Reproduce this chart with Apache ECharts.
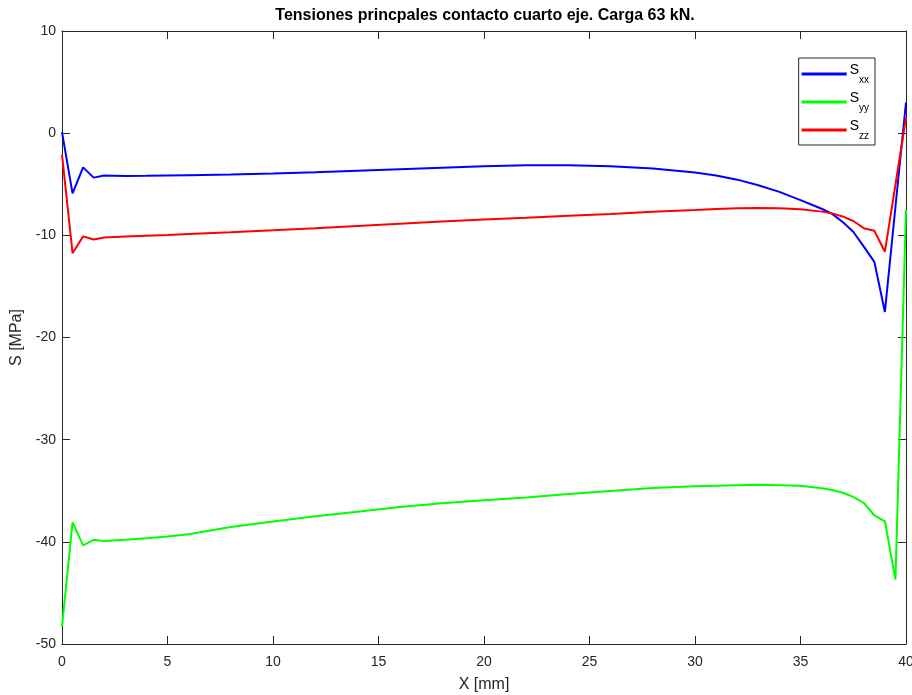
<!DOCTYPE html>
<html>
<head>
<meta charset="utf-8">
<script src="https://cdn.jsdelivr.net/npm/echarts@6/dist/echarts.min.js"></script>
<style>
  html, body { margin: 0; padding: 0; background: #ffffff; }
  #chart { width: 912px; height: 695px; }
</style>
</head>
<body>
<div id="chart"></div>
<script>
// Position along the contact [mm]
const xPos = [0, 0.5, 1, 1.5, 2, 3, 4, 5, 6, 8, 10, 12, 14, 16, 18, 20, 22, 24, 26, 28,
  30, 31, 32, 33, 34, 35, 36, 36.5, 37, 37.5, 38, 38.5, 39, 39.5, 40];

// Principal stresses [MPa]
const sxx = [0.1, -5.9, -3.35, -4.35, -4.15, -4.2, -4.18, -4.15, -4.12, -4.05, -3.95, -3.82, -3.68, -3.53, -3.38, -3.23, -3.13, -3.13, -3.25, -3.45,
  -3.85, -4.15, -4.55, -5.1, -5.75, -6.55, -7.4, -7.9, -8.7, -9.65, -11.1, -12.6, -17.5, -7.2, 3.0];
const syy = [-48.3, -38.1, -40.35, -39.8, -39.93, -39.8, -39.65, -39.48, -39.25, -38.55, -38.0, -37.5, -37.05, -36.6, -36.22, -35.93, -35.65, -35.33, -35.03, -34.74,
  -34.57, -34.5, -34.45, -34.42, -34.45, -34.5, -34.75, -34.93, -35.2, -35.6, -36.2, -37.4, -38.0, -43.7, -7.5];
const szz = [-2.1, -11.75, -10.1, -10.4, -10.22, -10.12, -10.04, -9.96, -9.87, -9.7, -9.51, -9.3, -9.08, -8.86, -8.64, -8.46, -8.28, -8.08, -7.9, -7.68,
  -7.52, -7.42, -7.36, -7.33, -7.36, -7.45, -7.68, -7.85, -8.15, -8.6, -9.3, -9.55, -11.6, -5.05, 1.5];

const seriesNames = ['Sxx', 'Syy', 'Szz'];
const subscripts = { Sxx: 'xx', Syy: 'yy', Szz: 'zz' };
const seriesColors = ['#0000ff', '#00ff00', '#ff0000'];

const xTicks = { min: 0, max: 40, interval: 5 };
const yTicks = { min: -50, max: 10, interval: 10 };

const axisColor = '#262626';
const fontFamily = 'Liberation Sans, Arial, Helvetica, sans-serif';

function pairs(xs, ys) {
  return xs.map((x, i) => [x, ys[i]]);
}

const chart = echarts.init(document.getElementById('chart'), null, { renderer: 'canvas' });

// Top and right axes close the box, with inward ticks and no labels
const mirrorAxis = {
  axisLine: { show: true, onZero: false, lineStyle: { color: axisColor, width: 1 } },
  axisTick: { show: true, inside: true, length: 8, lineStyle: { color: axisColor } },
  axisLabel: { show: false },
  splitLine: { show: false }
};

chart.setOption({
  animation: false,
  backgroundColor: '#ffffff',
  title: {
    text: 'Tensiones princpales contacto cuarto eje. Carga 63 kN.',
    left: 480,
    textAlign: 'center',
    top: 3,
    textStyle: { fontFamily, fontSize: 16, fontWeight: 'bold', color: '#000000' }
  },
  grid: { left: 62, right: 6, top: 31, bottom: 51, containLabel: false, outerBoundsMode: 'none' },
  legend: {
    orient: 'vertical',
    right: 37,
    top: 58,
    padding: [5, 6, 4, 3],
    itemGap: 6,
    itemWidth: 45,
    itemHeight: 3,
    backgroundColor: '#ffffff',
    borderColor: axisColor,
    borderWidth: 1,
    borderRadius: 0,
    data: seriesNames.map((n, i) => ({ name: n, icon: 'rect', itemStyle: { color: seriesColors[i] } })),
    formatter: name => '{s|S}{sub|' + subscripts[name] + '}',
    textStyle: {
      color: '#000000',
      padding: [0, 0, 0, -2],
      rich: {
        s: { fontFamily, fontSize: 14, color: '#000000', verticalAlign: 'top', padding: [0, 0, 0, 0] },
        sub: { fontFamily, fontSize: 10, color: '#000000', padding: [12, 0, 0, 0] }
      }
    }
  },
  xAxis: [{
    type: 'value',
    min: xTicks.min,
    max: xTicks.max,
    interval: xTicks.interval,
    position: 'bottom',
    name: 'X [mm]',
    nameLocation: 'middle',
    nameGap: 33,
    nameTextStyle: { fontFamily, fontSize: 16, color: axisColor },
    axisLine: { show: true, onZero: false, lineStyle: { color: axisColor, width: 1 } },
    axisTick: { show: true, inside: true, length: 8, lineStyle: { color: axisColor } },
    axisLabel: { fontFamily, fontSize: 14, color: axisColor, margin: 11 },
    splitLine: { show: false }
  }, Object.assign({
    type: 'value', min: xTicks.min, max: xTicks.max, interval: xTicks.interval, position: 'top'
  }, mirrorAxis)],
  yAxis: [{
    type: 'value',
    min: yTicks.min,
    max: yTicks.max,
    interval: yTicks.interval,
    position: 'left',
    name: 'S [MPa]',
    nameLocation: 'middle',
    nameGap: 27,
    nameTextStyle: { fontFamily, fontSize: 16, color: axisColor },
    axisLine: { show: true, onZero: false, lineStyle: { color: axisColor, width: 1 } },
    axisTick: { show: true, inside: true, length: 8, lineStyle: { color: axisColor } },
    axisLabel: { fontFamily, fontSize: 14, color: axisColor, margin: 6 },
    splitLine: { show: false }
  }, Object.assign({
    type: 'value', min: yTicks.min, max: yTicks.max, interval: yTicks.interval, position: 'right'
  }, mirrorAxis)],
  series: [sxx, syy, szz].map((vals, i) => ({
    name: seriesNames[i],
    type: 'line',
    data: pairs(xPos, vals),
    xAxisIndex: 0,
    yAxisIndex: 0,
    symbol: 'none',
    smooth: false,
    lineStyle: { color: seriesColors[i], width: 2 },
    itemStyle: { color: seriesColors[i] }
  }))
});
</script>
</body>
</html>
